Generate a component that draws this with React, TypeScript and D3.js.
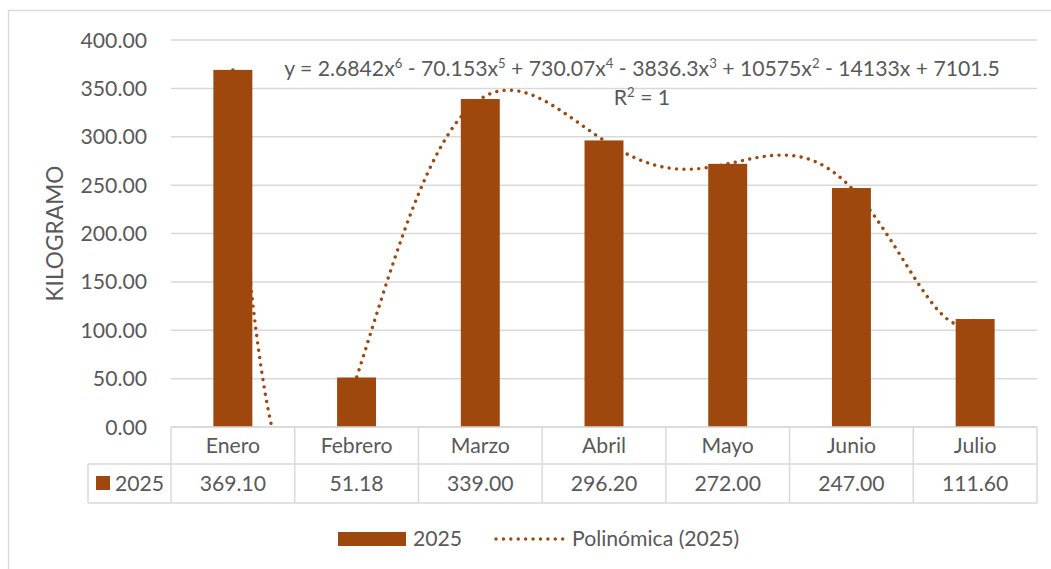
import React from "react";
import * as d3 from "d3";

const categories = ["Enero", "Febrero", "Marzo", "Abril", "Mayo", "Junio", "Julio"];
const values2025 = [369.1, 51.18, 339.0, 296.2, 272.0, 247.0, 111.6];
const yTicks = [0, 50, 100, 150, 200, 250, 300, 350, 400];
const seriesName = "2025";
const trendName = "Polinómica (2025)";
const axisTitle = "KILOGRAMO";
// equation parts: [text, superscript]
const equationParts: [string, string][] = [
  ["y = 2.6842x", "6"],
  [" - 70.153x", "5"],
  [" + 730.07x", "4"],
  [" - 3836.3x", "3"],
  [" + 10575x", "2"],
  [" - 14133x + 7101.5", ""],
];
const r2Label = ["R", "2", " = 1"];

const W = 1051;
const H = 569;
const plotL = 171;
const plotR = 1037;
const plotT = 40;
const plotB = 427;
const BAR = "#9E480E";
const GRID = "#D9D9D9";
const TXT = "#595959";
const FONT = "Lato, 'Open Sans', sans-serif";
const FS = 21.2;
const SUP = 8;

function lagrange(t: number): number {
  let s = 0;
  for (let i = 0; i < values2025.length; i++) {
    let p = values2025[i];
    for (let j = 0; j < values2025.length; j++) {
      if (j !== i) p *= (t - (j + 1)) / (i + 1 - (j + 1));
    }
    s += p;
  }
  return s;
}

export default function App() {
  const xCol = d3.scaleBand<string>().domain(categories).range([plotL, plotR]).padding(0);
  const xBar = d3
    .scaleBand<string>()
    .domain(categories)
    .range([plotL, plotR])
    .paddingInner(0.685)
    .paddingOuter(0.3425);
  const y = d3.scaleLinear().domain([0, 400]).range([plotB, plotT]);
  const step = xCol.step();
  const xT = d3
    .scaleLinear()
    .domain([1, categories.length])
    .range([plotL + step / 2, plotR - step / 2]);
  const ts = d3.range(0, 1201).map((i) => 1 + (i / 1200) * (categories.length - 1));
  const trendPath = d3
    .line<number>()
    .x((t) => xT(t))
    .y((t) => y(lagrange(t)))(ts) as string;
  const fmt = d3.format(".2f");

  const rowTop = plotB;
  const rowMid = 464;
  const rowBot = 503;
  const tableL = 88;

  const eqSpans: React.ReactNode[] = [];
  equationParts.forEach(([a, s], i) => {
    const prevSup = i > 0 && equationParts[i - 1][1] !== "";
    eqSpans.push(
      <tspan key={"a" + i} dy={prevSup ? SUP : 0}>
        {a}
      </tspan>
    );
    if (s) {
      eqSpans.push(
        <tspan key={"s" + i} fontSize={FS * 0.62} dy={-SUP}>
          {s}
        </tspan>
      );
    }
  });

  return (
    <svg
      width={W}
      height={H}
      style={{ position: "absolute", left: 0, top: 0, background: "#fff" }}
      fontFamily={FONT}
    >
      <rect x={0} y={0} width={W} height={H} fill="#fff" />
      <rect x={8.5} y={10.5} width={W + 20} height={H + 20} fill="none" stroke={GRID} strokeWidth={1.3} />
      <defs>
        <clipPath id="plotclip">
          <rect x={plotL} y={plotT - 2} width={plotR - plotL} height={plotB - plotT + 2} />
        </clipPath>
      </defs>
      {/* gridlines */}
      {yTicks.map((t) => (
        <line key={t} x1={plotL} x2={plotR} y1={y(t)} y2={y(t)} stroke={GRID} strokeWidth={1.5} />
      ))}
      {/* y labels */}
      {yTicks.map((t) => (
        <text key={"l" + t} x={147} y={y(t) + 7.5} textAnchor="end" fontSize={FS} fill={TXT}>
          {fmt(t)}
        </text>
      ))}
      <text
        transform={`translate(63,${(plotT + plotB) / 2}) rotate(-90)`}
        textAnchor="middle"
        fontSize={FS + 1.5}
        fill={TXT}
      >
        {axisTitle}
      </text>
      {/* bars */}
      {categories.map((c, i) => (
        <rect
          key={c}
          x={xBar(c)}
          y={y(values2025[i])}
          width={xBar.bandwidth()}
          height={plotB - y(values2025[i])}
          fill={BAR}
        />
      ))}
      {/* trendline */}
      <path
        d={trendPath}
        clipPath="url(#plotclip)"
        fill="none"
        stroke={BAR}
        strokeWidth={3.4}
        strokeLinecap="round"
        strokeDasharray="0.01 7.4"
      />
      {/* equation */}
      <text x={642} y={76} textAnchor="middle" fontSize={FS} fill={TXT}>
        {eqSpans}
      </text>
      <text x={642} y={105} textAnchor="middle" fontSize={FS} fill={TXT}>
        <tspan>{r2Label[0]}</tspan>
        <tspan fontSize={FS * 0.62} dy={-SUP}>
          {r2Label[1]}
        </tspan>
        <tspan dy={SUP}>{r2Label[2]}</tspan>
      </text>
      {/* data table */}
      <g stroke={GRID} strokeWidth={1.5}>
        <line x1={plotL} x2={plotR} y1={rowTop} y2={rowTop} />
        <line x1={tableL} x2={plotR} y1={rowMid} y2={rowMid} />
        <line x1={tableL} x2={plotR} y1={rowBot} y2={rowBot} />
        <line x1={tableL} x2={tableL} y1={rowMid} y2={rowBot} />
        {categories.map((c) => (
          <line key={c} x1={xCol(c)} x2={xCol(c)} y1={rowTop} y2={rowBot} />
        ))}
        <line x1={plotR} x2={plotR} y1={rowTop} y2={rowBot} />
      </g>
      {categories.map((c, i) => (
        <g key={"t" + c}>
          <text x={(xCol(c) as number) + step / 2} y={452.5} textAnchor="middle" fontSize={FS} fill={TXT}>
            {c}
          </text>
          <text x={(xCol(c) as number) + step / 2} y={491} textAnchor="middle" fontSize={FS} fill={TXT}>
            {fmt(values2025[i])}
          </text>
        </g>
      ))}
      <rect x={96} y={476} width={14} height={14} fill={BAR} />
      <text x={115} y={490.5} fontSize={FS} fill={TXT}>
        {seriesName}
      </text>
      {/* legend */}
      <rect x={338} y={532} width={68} height={14} fill={BAR} />
      <text x={413} y={546} fontSize={FS} fill={TXT}>
        {seriesName}
      </text>
      <line
        x1={496}
        x2={565}
        y1={539}
        y2={539}
        stroke={BAR}
        strokeWidth={3.4}
        strokeLinecap="round"
        strokeDasharray="0.01 7.4"
      />
      <text x={572} y={546} fontSize={FS} fill={TXT}>
        {trendName}
      </text>
    </svg>
  );
}
